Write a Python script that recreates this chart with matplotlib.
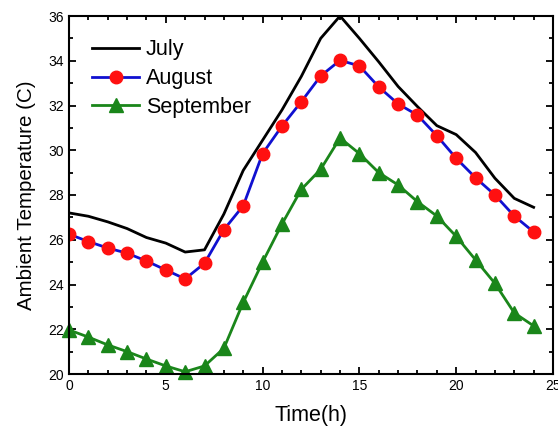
import numpy as np
import matplotlib
matplotlib.use("Agg")
import matplotlib.pyplot as plt
from matplotlib.ticker import MultipleLocator

plt.rcParams["font.family"] = ["Liberation Sans", "DejaVu Sans"]

hours = np.arange(25)

july = [27.2, 27.05, 26.8, 26.5, 26.1, 25.85, 25.45, 25.55, 27.15, 29.1,
        30.45, 31.8, 33.3, 35.0, 36.0, 35.0, 33.95, 32.85, 31.95, 31.1,
        30.7, 29.9, 28.75, 27.85, 27.45]
august = [26.25, 25.92, 25.63, 25.4, 25.05, 24.65, 24.25, 24.95, 26.45, 27.52,
          29.85, 31.08, 32.17, 33.32, 34.02, 33.77, 32.83, 32.07, 31.57, 30.65,
          29.64, 28.77, 28.0, 27.06, 26.35]
september = [21.97, 21.65, 21.3, 21.0, 20.67, 20.36, 20.1, 20.36, 21.15, 23.2,
             25.0, 26.7, 28.25, 29.15, 30.55, 29.85, 29.0, 28.45, 27.7, 27.06,
             26.15, 25.1, 24.05, 22.73, 22.15]

fig = plt.figure(figsize=(5.58, 4.29), dpi=100)
ax = fig.add_axes([69 / 558, 55 / 429, 484 / 558, 358 / 429])

ax.plot(hours, july, color="black", linewidth=2, label="July")
ax.plot(hours, august, color="#1010d0", linewidth=2, marker="o",
        markersize=9, markerfacecolor="#ff1010", markeredgecolor="#ff1010",
        label="August")
ax.plot(hours, september, color="#1a861a", linewidth=2, marker="^",
        markersize=10, markerfacecolor="#1a861a", markeredgecolor="#1a861a",
        label="September", clip_on=False)

ax.set_xlim(0, 25)
ax.set_ylim(20, 36)
ax.xaxis.set_major_locator(MultipleLocator(5))
ax.xaxis.set_minor_locator(MultipleLocator(1))
ax.yaxis.set_major_locator(MultipleLocator(2))
ax.yaxis.set_minor_locator(MultipleLocator(1))
ax.tick_params(which="both", direction="in", top=True, right=True,
               width=1.3, labelsize=10)
ax.tick_params(which="major", length=5)
ax.tick_params(which="minor", length=3)
for sp in ax.spines.values():
    sp.set_linewidth(1.5)

ax.set_xlabel("Time(h)", fontsize=15.5, labelpad=9)
ax.set_ylabel("Ambient Temperature (C)", fontsize=14.8, labelpad=9)

ax.legend(loc="upper left", frameon=False, fontsize=15.5,
          handlelength=2.2, handletextpad=0.3, labelspacing=0.36,
          borderaxespad=0.2, bbox_to_anchor=(0.021, 0.971))

fig.savefig("out.png", dpi=100)
